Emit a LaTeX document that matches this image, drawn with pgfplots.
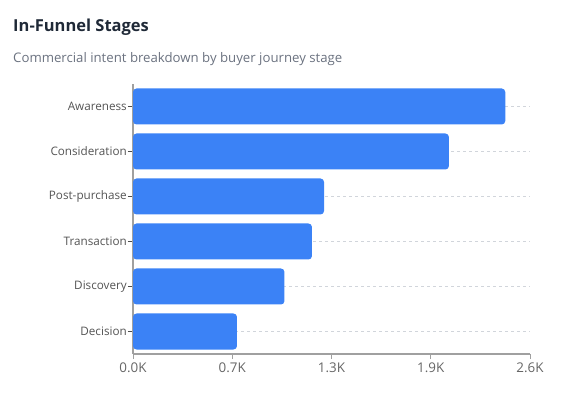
\documentclass[border=0pt]{standalone}
\usepackage{pgfplots}
\pgfplotsset{compat=1.18}
\usepackage{fontspec}
\setmainfont{Open Sans}
\definecolor{barblue}{HTML}{3B82F6}
\definecolor{titlec}{HTML}{1F2937}
\definecolor{subc}{HTML}{6B7280}
\definecolor{axisc}{HTML}{A0A0A0}
\definecolor{gridc}{HTML}{D1D5DB}
\begin{document}
\begin{tikzpicture}
\path[use as bounding box] (0pt,0pt) rectangle (565pt,-395pt);
\node[anchor=base west, font=\fontsize{16.5}{19}\selectfont\bfseries, text=titlec, inner sep=0] at (13pt,-32pt) {In-Funnel Stages};
\node[anchor=base west, font=\fontsize{13.2}{15}\selectfont, text=subc, inner sep=0] at (13pt,-63pt) {Commercial intent breakdown by buyer journey stage};
\begin{axis}[
  at={(133pt,-354pt)}, anchor=south west,
  scale only axis, width=397pt, height=270pt,
  xbar, bar width=36pt,
  xmin=0, xmax=2600, ymin=-0.5, ymax=5.5,
  axis lines=left, axis line style={-, draw=axisc, line width=1.2pt},
  xtick={0,650,1300,1950,2600},
  xticklabels={0.0K,0.7K,1.3K,1.9K,2.6K},
  ytick={0,1,2,3,4,5},
  yticklabels={Decision,Discovery,Transaction,Post-purchase,Consideration,Awareness},
  tick align=outside, major tick length=5pt,
  x tick style={draw=axisc, line width=0.9pt},
  y tick style={draw=black!70, line width=0.8pt},
  x tick label style={font=\fontsize{13.4}{15}\selectfont, text=black!60},
  y tick label style={font=\fontsize{11.7}{13}\selectfont, text=black!67, inner sep=1pt},
  ymajorgrids, major grid style={draw=gridc, dashed, line width=0.6pt},
  clip=false,
]
\addplot[fill=barblue, draw=none, rounded corners=3.5pt] coordinates {
 (681,0) (992,1) (1172,2) (1251,3) (2069,4) (2438,5)};
\end{axis}
\end{tikzpicture}
\end{document}
